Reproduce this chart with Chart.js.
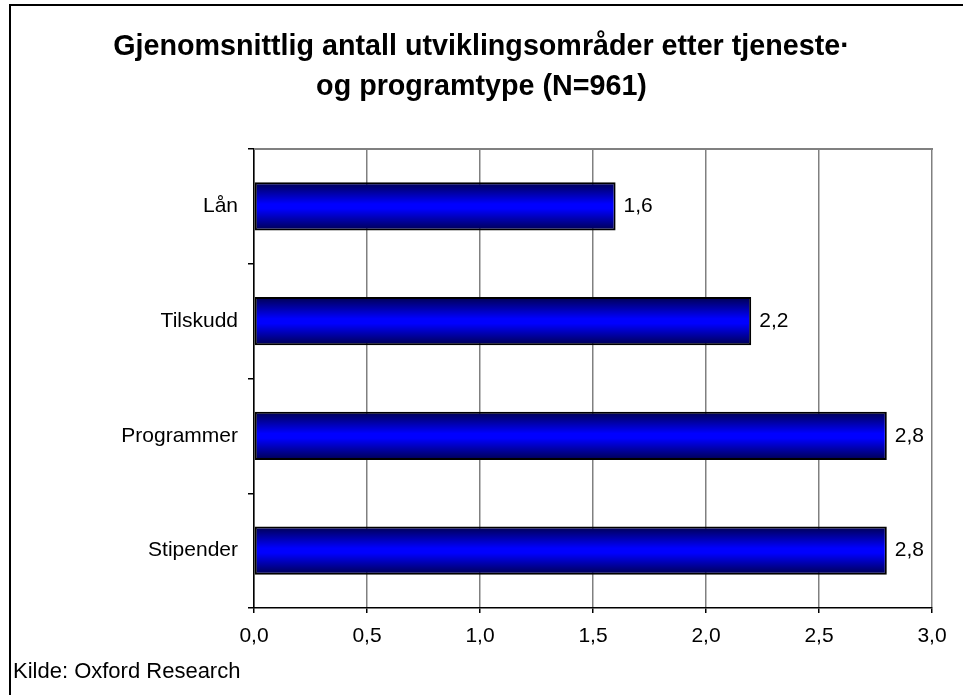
<!DOCTYPE html>
<html>
<head>
<meta charset="utf-8">
<script src="https://cdn.jsdelivr.net/npm/chart.js@4"></script>
<style>
  html, body { margin: 0; padding: 0; background: #fff; }
  #wrap { position: relative; width: 963px; height: 695px; }
</style>
</head>
<body>
<div id="wrap"><canvas id="barChart" width="963" height="695"></canvas></div>
<script>
// Chart data
const categories = ["Lån", "Tilskudd", "Programmer", "Stipender"];
const averages = [1.6, 2.2, 2.8, 2.8];
const titleLines = ["Gjenomsnittlig antall utviklingsområder etter tjeneste·", "og programtype (N=961)"];
const sourceNote = "Kilde: Oxford Research";

const FONT = "'Liberation Sans', Arial, sans-serif";

function fmt(v) {
  return Number(v).toFixed(1).replace(".", ",");
}

// Frame, plot border, gradient bars, value labels, source note
const decorations = {
  id: "decorations",
  beforeDatasetsDraw(chart) {
    const ctx = chart.ctx;
    const meta = chart.getDatasetMeta(0);
    meta.data.forEach((bar) => {
      const top = bar.y - bar.height / 2;
      const bottom = bar.y + bar.height / 2;
      const g = ctx.createLinearGradient(0, top, 0, bottom);
      g.addColorStop(0, "#000050");
      g.addColorStop(0.45, "#0000ff");
      g.addColorStop(0.55, "#0000ff");
      g.addColorStop(1, "#000050");
      // give each bar its own options object so gradients are not shared
      bar.options = Object.assign({}, bar.options, { backgroundColor: g });
    });
  },
  afterDraw(chart) {
    const ctx = chart.ctx;
    const area = chart.chartArea;
    ctx.save();
    // plot area top border
    ctx.strokeStyle = "#808080";
    ctx.lineWidth = 2;
    ctx.beginPath();
    ctx.moveTo(area.left, area.top);
    ctx.lineTo(area.right + 1, area.top);
    ctx.stroke();
    // outer frame
    ctx.strokeStyle = "#000";
    ctx.lineWidth = 2;
    ctx.beginPath();
    ctx.moveTo(10, chart.height);
    ctx.lineTo(10, 5);
    ctx.lineTo(chart.width, 5);
    ctx.stroke();
    // value labels
    ctx.fillStyle = "#000";
    ctx.font = "21px " + FONT;
    ctx.textAlign = "left";
    ctx.textBaseline = "middle";
    const meta = chart.getDatasetMeta(0);
    meta.data.forEach((bar, i) => {
      ctx.fillText(fmt(averages[i]), bar.x + 8, bar.y);
    });
    // source note
    ctx.font = "22px " + FONT;
    ctx.fillText(sourceNote, 13, 672);
    ctx.restore();
  },
};

new Chart(document.getElementById("barChart"), {
  type: "bar",
  data: {
    labels: categories,
    datasets: [
      {
        data: averages,
        backgroundColor: () => "#0000ff",
        borderColor: "#000",
        borderWidth: 2,
        borderSkipped: false,
        barPercentage: 0.42,
        categoryPercentage: 1,
      },
    ],
  },
  options: {
    indexAxis: "y",
    responsive: false,
    animation: false,
    layout: { padding: { left: 31, right: 31, top: 0, bottom: 0 } },
    plugins: {
      legend: { display: false },
      tooltip: { enabled: false },
      title: {
        display: true,
        text: titleLines,
        color: "#000",
        font: { family: FONT, size: 28.7, weight: "bold", lineHeight: 40 / 28.7 },
        padding: { top: 27, bottom: 42 },
      },
    },
    scales: {
      x: {
        min: 0,
        max: 3,
        afterFit(scale) {
          scale.height = 87;
        },
        ticks: {
          stepSize: 0.5,
          color: "#000",
          font: { family: FONT, size: 21 },
          padding: 11,
          maxRotation: 0,
          callback: (v) => fmt(v),
        },
        grid: {
          color: "#808080",
          lineWidth: 1.5,
          drawTicks: true,
          tickLength: 5,
          tickColor: "#000",
        },
        border: { color: "#000", width: 1.5 },
      },
      y: {
        afterFit(scale) {
          scale.width = 223;
        },
        ticks: {
          color: "#000",
          font: { family: FONT, size: 21 },
          padding: 10,
        },
        grid: {
          drawOnChartArea: false,
          drawTicks: true,
          tickLength: 6,
          tickColor: "#000",
          lineWidth: 1.5,
        },
        border: { color: "#000", width: 1.5 },
      },
    },
  },
  plugins: [decorations],
});
</script>
</body>
</html>
